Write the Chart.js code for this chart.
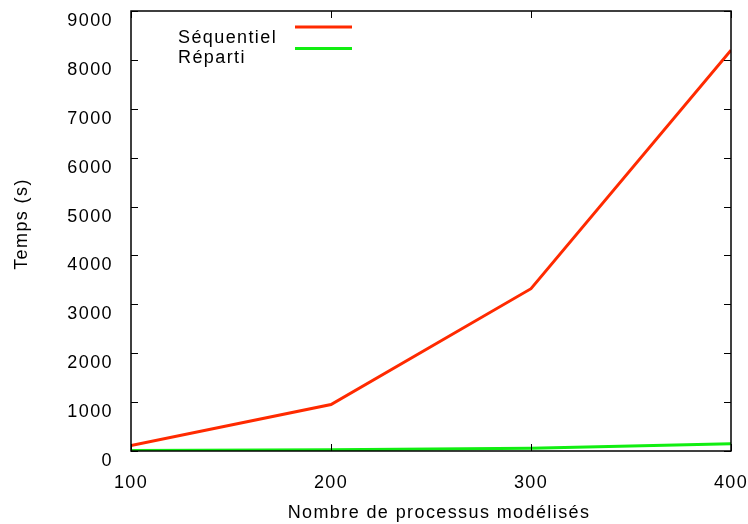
<!DOCTYPE html>
<html>
<head>
<meta charset="utf-8">
<script src="https://cdn.jsdelivr.net/npm/chart.js@4"></script>
<style>
  html, body { margin: 0; padding: 0; background: #fff; }
  #wrap { width: 748px; height: 524px; }
</style>
</head>
<body>
<div id="wrap"><canvas id="c" width="748" height="524"></canvas></div>
<script>
// Number of modelled processes
const processCounts = [100, 200, 300, 400];
// Runtime in seconds
const sequentialTimes = [110, 950, 3320, 8200];
const distributedTimes = [10, 25, 55, 150];
const seriesNames = ['Séquentiel', 'Réparti'];
const xTicks = [100, 200, 300, 400];
const yTicks = [0, 1000, 2000, 3000, 4000, 5000, 6000, 7000, 8000, 9000];
const xTitle = 'Nombre de processus modélisés';
const yTitle = 'Temps (s)';

const FONT = '"Liberation Sans", Arial, Helvetica, sans-serif';
const FSIZE = 18;
const SPACING = '1.4px';
const RED = '#ff2a00';
const GREEN = '#11ee11';

const toPoints = ys => processCounts.map((x, i) => ({ x, y: ys[i] }));

// Wider letter spacing for every text item drawn on the canvas
const spacingPlugin = {
  id: 'spacing',
  beforeDraw(chart) { chart.ctx.letterSpacing = SPACING; }
};

// Frame with inward ticks on all four sides, axis titles and the key
const framePlugin = {
  id: 'frame',
  afterDatasetsDraw(chart) {
    const { ctx, chartArea: a, scales } = chart;
    ctx.save();
    ctx.strokeStyle = '#000';
    ctx.lineWidth = 1.5;
    ctx.strokeRect(a.left, a.top, a.right - a.left, a.bottom - a.top);
    ctx.lineWidth = 1;
    const L = 7;
    ctx.beginPath();
    yTicks.forEach(v => {
      const y = Math.round(scales.y.getPixelForValue(v)) + 0.5;
      ctx.moveTo(a.left, y); ctx.lineTo(a.left + L, y);
      ctx.moveTo(a.right, y); ctx.lineTo(a.right - L, y);
    });
    xTicks.forEach(v => {
      const x = Math.round(scales.x.getPixelForValue(v)) + 0.5;
      ctx.moveTo(x, a.bottom); ctx.lineTo(x, a.bottom - L);
      ctx.moveTo(x, a.top); ctx.lineTo(x, a.top + L);
    });
    ctx.stroke();

    ctx.font = FSIZE + 'px ' + FONT;
    ctx.letterSpacing = SPACING;
    ctx.fillStyle = '#000';
    ctx.textBaseline = 'alphabetic';

    // axis titles
    ctx.textAlign = 'center';
    ctx.fillText(xTitle, 439, 518);
    ctx.save();
    ctx.translate(27, 224);
    ctx.rotate(-Math.PI / 2);
    ctx.fillText(yTitle, 0, 0);
    ctx.restore();

    // key
    const colors = [RED, GREEN];
    ctx.textAlign = 'left';
    seriesNames.forEach((name, i) => {
      ctx.fillText(name, 178, 43 + i * 20);
      const ly = 27 + i * 21.5;
      ctx.strokeStyle = colors[i];
      ctx.lineWidth = 3;
      ctx.beginPath();
      ctx.moveTo(295, ly); ctx.lineTo(352, ly);
      ctx.stroke();
    });
    ctx.restore();
  }
};

new Chart(document.getElementById('c'), {
  type: 'line',
  data: {
    datasets: [
      { label: seriesNames[0], data: toPoints(sequentialTimes), borderColor: RED, borderWidth: 3, pointRadius: 0, tension: 0, fill: false },
      { label: seriesNames[1], data: toPoints(distributedTimes), borderColor: GREEN, borderWidth: 3, pointRadius: 0, tension: 0, fill: false }
    ]
  },
  options: {
    responsive: false,
    animation: false,
    layout: { padding: { top: 11, right: 17, left: 0, bottom: 0 } },
    plugins: { legend: { display: false }, tooltip: { enabled: false } },
    scales: {
      x: {
        type: 'linear', min: 100, max: 400,
        afterBuildTicks: s => { s.ticks = xTicks.map(v => ({ value: v })); },
        afterFit: s => { s.height = 73; s.paddingLeft = 0; s.paddingRight = 0; },
        grid: { display: false, drawTicks: false },
        border: { display: false },
        ticks: { color: '#000', font: { family: FONT, size: FSIZE }, padding: 21, maxRotation: 0, callback: v => String(v) }
      },
      y: {
        type: 'linear', min: 0, max: 9000,
        afterBuildTicks: s => { s.ticks = yTicks.map(v => ({ value: v })); },
        afterFit: s => { s.width = 131; s.paddingTop = 0; s.paddingBottom = 0; },
        grid: { display: false, drawTicks: false },
        border: { display: false },
        ticks: { color: '#000', font: { family: FONT, size: FSIZE }, padding: 18, labelOffset: 10, callback: v => String(v) }
      }
    }
  },
  plugins: [spacingPlugin, framePlugin]
});
</script>
</body>
</html>
